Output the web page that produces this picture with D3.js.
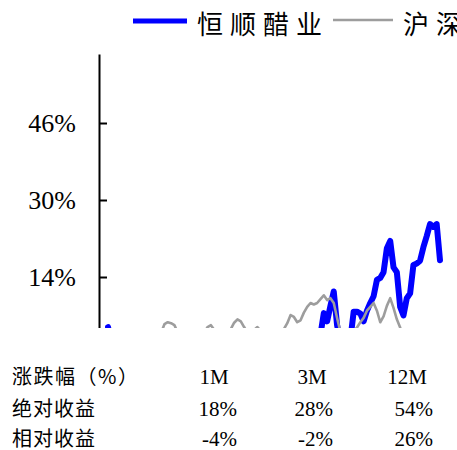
<!DOCTYPE html>
<html>
<head>
<meta charset="utf-8">
<script src="https://cdn.jsdelivr.net/npm/d3@7"></script>
<style>
  html, body { margin: 0; padding: 0; background: #fff; }
  svg { display: block; }
</style>
</head>
<body>
<svg id="chart" width="457" height="450"></svg>
<script>
// ---- data ----
const seriesNames = ["恒顺醋业", "沪深300"];
const stockValues = [
  3.6, 0.8, -1.5, -3.2, -2.4, -4.8, -6.1, -5.2, -7.5, -9.0,
  -8.2, -10.4, -12.1, -11.0, -9.6, -10.8, -8.7, -7.9, -9.5, -11.2,
  -13.0, -12.4, -14.1, -15.6, -13.8, -12.2, -10.9, -12.5, -11.3, -9.8,
  -8.4, -9.9, -11.6, -10.2, -8.8, -7.1, -8.6, -6.9, -5.4, -6.8,
  -5.1, -7.3, -8.9, -7.6, -6.2, -7.8, -9.4, -8.1, -6.5, -5.2,
  -6.7, -4.9, -3.6, -4.8, -3.1, -1.9, -3.4, -2.2, -0.9, -2.1,
  -1.0, 0.2, -0.8, 0.5, 2.0, 6.5, 4.8, 8.0, 11.0, 4.0,
  0.5, -1.0, -0.5, 1.0, 6.8, 6.8, 6.4, 4.8, 7.0, 8.6,
  10.0, 13.4, 13.8, 15.0, 20.0, 21.5, 16.0, 15.0, 7.8, 6.0,
  9.6, 10.6, 16.5, 16.8, 17.4, 20.2, 22.5, 25.0, 24.4, 25.0,
  17.5
];
const indexValues = [
  0.0, -0.6, -1.4, -0.8, -2.0, -1.2, 0.3, -0.5, 1.1, 0.4,
  -0.7, 0.6, 1.5, 0.9, 2.0, 1.3, 2.4, 4.2, 4.6, 4.4,
  4.0, 2.5, 1.5, 0.5, 1.0, 2.0, 1.2, 0.8, 2.0, 2.5,
  3.6, 4.0, 3.0, 2.0, 1.5, 2.2, 2.8, 3.2, 4.5, 5.2,
  4.8, 3.6, 2.5, 2.0, 3.0, 3.6, 2.8, 1.5, 1.0, 0.5,
  1.2, 2.0, 2.6, 3.2, 4.4, 6.1, 5.7, 4.6, 5.0, 6.6,
  7.8, 8.6, 8.3, 8.6, 9.4, 10.2, 9.2, 9.6, 8.6, 5.5,
  2.6, 1.5, 1.0, 2.0, 2.8, 3.5, 4.6, 5.5, 7.0, 7.8,
  8.6, 7.0, 4.6, 5.8, 8.0, 9.6, 7.6, 5.2, 3.5, 2.0,
  1.5, 1.0, 0.5, 1.2, 0.8, 1.5, 2.0, 1.0, 0.5, 1.5,
  1.0
];
const yTicks = [14, 30, 46];
const tableHeader = ["涨跌幅（%）", "1M", "3M", "12M"];
const tableRowLabels = ["绝对收益", "相对收益"];
const absReturns = ["18%", "28%", "54%"];
const relReturns = ["-4%", "-2%", "26%"];

// ---- layout ----
const svg = d3.select("#chart");
const axisX = 99;
const clipBottom = 328;
const x = d3.scaleLinear().domain([0, stockValues.length - 1]).range([108, 440]);
const y = d3.scaleLinear().domain([-2, 60.34]).range([354, 54]);

svg.append("defs").append("clipPath").attr("id", "plotclip")
  .append("rect").attr("x", 0).attr("y", 0).attr("width", 457).attr("height", clipBottom);

const g = svg.append("g").attr("clip-path", "url(#plotclip)");

const line = d3.line().x((d, i) => x(i)).y(d => y(d));

g.append("path").datum(stockValues)
  .attr("d", line).attr("fill", "none")
  .attr("stroke", "#0000ff").attr("stroke-width", 6)
  .attr("stroke-linejoin", "round").attr("stroke-linecap", "round");

g.append("path").datum(indexValues)
  .attr("d", line).attr("fill", "none")
  .attr("stroke", "#9d9d9d").attr("stroke-width", 2.6)
  .attr("stroke-linejoin", "round");

const yAxis = d3.axisLeft(y).tickValues(yTicks).tickFormat(d => d + "%")
  .tickSize(-8).tickSizeOuter(0).tickPadding(23);
const ax = g.append("g").attr("transform", `translate(${axisX},0)`).call(yAxis);
ax.select(".domain").attr("stroke", "#000").attr("stroke-width", 2);
ax.selectAll(".tick line").attr("stroke", "#000").attr("stroke-width", 2);
ax.selectAll(".tick text")
  .attr("font-family", "'Liberation Serif', 'Times New Roman', serif")
  .attr("font-size", 26).attr("fill", "#000").attr("dy", "0.33em");

// ---- legend ----
const legend = svg.append("g");
legend.append("line").attr("x1", 133).attr("x2", 187).attr("y1", 21).attr("y2", 21)
  .attr("stroke", "#0000ff").attr("stroke-width", 5);
legend.append("text").attr("x", 197).attr("y", 34)
  .attr("font-family", "'Noto Sans CJK SC', sans-serif").attr("font-size", 26)
  .attr("letter-spacing", 7).attr("fill", "#000").text(seriesNames[0]);
legend.append("line").attr("x1", 333).attr("x2", 393).attr("y1", 20).attr("y2", 20)
  .attr("stroke", "#9d9d9d").attr("stroke-width", 2.6);
legend.append("text").attr("x", 403).attr("y", 34)
  .attr("font-family", "'Noto Sans CJK SC', sans-serif").attr("font-size", 26)
  .attr("letter-spacing", 7).attr("fill", "#000").text(seriesNames[1]);

// ---- table ----
const tbl = svg.append("g");
const cjk = "'Noto Sans CJK SC', sans-serif";
const serif = "'Liberation Serif', 'Times New Roman', serif";
const rowY = [384, 416, 446];
const headX = [214, 312, 407];
const valX = [237, 333, 433];
const labels = [tableHeader[0]].concat(tableRowLabels);
labels.forEach((t, i) => {
  tbl.append("text").attr("x", 12).attr("y", rowY[i])
    .attr("font-family", cjk).attr("font-size", 20)
    .attr("letter-spacing", i === 0 ? 1.5 : 1)
    .attr("fill", "#000").text(t);
});
tableHeader.slice(1).forEach((t, j) => {
  tbl.append("text").attr("x", headX[j]).attr("y", rowY[0]).attr("text-anchor", "middle")
    .attr("font-family", serif).attr("font-size", 21).attr("fill", "#000").text(t);
});
[absReturns, relReturns].forEach((row, r) => {
  row.forEach((t, j) => {
    tbl.append("text").attr("x", valX[j]).attr("y", rowY[r + 1]).attr("text-anchor", "end")
      .attr("font-family", serif).attr("font-size", 21).attr("fill", "#000").text(t);
  });
});
</script>
</body>
</html>
